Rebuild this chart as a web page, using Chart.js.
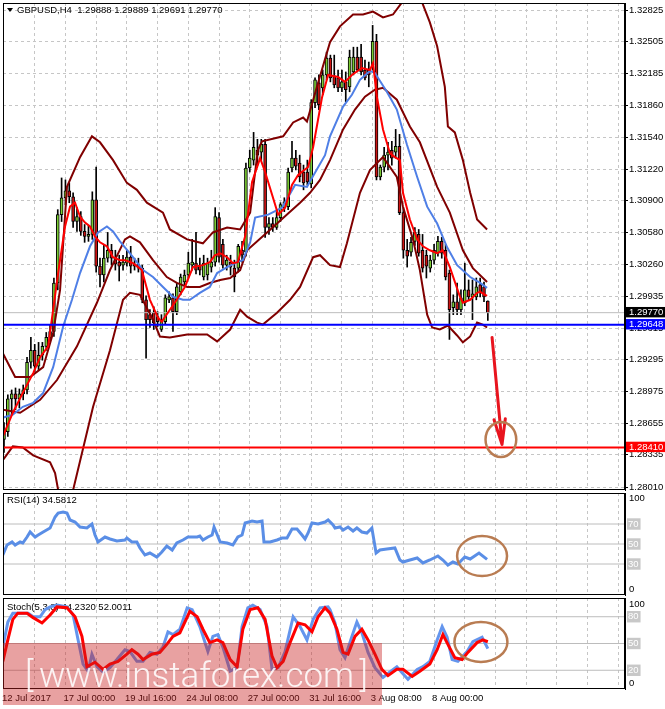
<!DOCTYPE html>
<html>
<head>
<meta charset="utf-8">
<script src="https://cdn.jsdelivr.net/npm/chart.js@4.4.1/dist/chart.umd.min.js"></script>
<style>
  body { margin: 0; background: #fff; width: 665px; height: 709px; overflow: hidden; position: relative; }
  canvas { position: absolute; left: 0; }
  #main { top: 0; }
  #rsi { top: 492px; }
  #stoch { top: 596px; }
  .wm { position: absolute; left: 3px; top: 643px; width: 379px; height: 62px; background: rgba(200, 30, 30, 0.42); pointer-events: none; }
  .wm div { position: absolute; left: 22px; right: 14px; top: 13px; display: flex; justify-content: space-between;
            color: rgba(255, 255, 255, 0.88); font: 300 35px Roboto, 'Liberation Sans', sans-serif; line-height: 40px; }
</style>
</head>
<body>
<canvas id="main" width="665" height="492"></canvas>
<canvas id="rsi" width="665" height="104"></canvas>
<canvas id="stoch" width="665" height="113"></canvas>
<div class="wm"><div><span>[</span><span>www.instaforex.com</span><span>]</span></div></div>
<script>
// GBPUSD H4, one value per bar (bar 0 = 12 Jul 08:00)
const opens = [
  1.2849,1.2857,1.2890,1.2895,1.2890,1.2895,1.2899,1.2927,1.2939,1.2923,
  1.2934,1.2943,1.2952,1.2958,1.3007,1.3076,1.3093,1.3100,1.3094,1.3069,
  1.3074,1.3059,1.3054,1.3056,1.3091,1.3024,1.3015,1.3032,1.3040,1.3032,
  1.3028,1.3025,1.3027,1.3033,1.3026,1.3026,1.3022,1.2990,1.2975,1.2977,
  1.2973,1.2960,1.2968,1.2990,1.2992,1.2978,1.2998,1.3008,1.3015,1.3025,
  1.3027,1.3025,1.3013,1.3015,1.3023,1.3028,1.3073,1.3046,1.3025,1.3028,
  1.3022,1.3022,1.3040,1.3038,1.3123,1.3131,1.3141,1.3139,1.3147,1.3063,
  1.3067,1.3063,1.3073,1.3083,1.3084,1.3123,1.3133,1.3128,1.3119,1.3119,
  1.3107,1.3189,1.3209,1.3204,1.3217,1.3234,1.3216,1.3214,1.3204,1.3210,
  1.3205,1.3220,1.3235,1.3235,1.3222,1.3222,1.3227,1.3251,1.3114,1.3124,
  1.3136,1.3141,1.3139,1.3145,1.3078,1.3040,1.3038,1.3049,1.3056,1.3040,
  1.3035,1.3022,1.3030,1.3037,1.3049,1.3040,1.3017,1.2982,1.2988,1.2980,
  1.2987,1.3000,1.2993,1.2993,1.3005,1.3003,1.29888
];
const highs = [
  1.2866,1.2894,1.2899,1.2901,1.2900,1.2904,1.2932,1.2952,1.2945,1.2947,
  1.2947,1.2957,1.2965,1.3012,1.3081,1.3113,1.3111,1.3108,1.3098,1.3083,
  1.3079,1.3066,1.3065,1.3099,1.3124,1.3032,1.3046,1.3058,1.3046,1.3040,
  1.3035,1.3035,1.3040,1.3044,1.3032,1.3032,1.3025,1.2994,1.2980,1.2983,
  1.2978,1.2975,1.2995,1.2998,1.2996,1.3007,1.3016,1.3020,1.3038,1.3051,
  1.3058,1.3032,1.3035,1.3032,1.3040,1.3083,1.3078,1.3051,1.3035,1.3035,
  1.3030,1.3046,1.3049,1.3128,1.3141,1.3159,1.3152,1.3152,1.3152,1.3073,
  1.3073,1.3079,1.3088,1.3093,1.3123,1.3150,1.3141,1.3136,1.3126,1.3131,
  1.3192,1.3214,1.3217,1.3222,1.3240,1.3237,1.3237,1.3222,1.3222,1.3220,
  1.3242,1.3245,1.3245,1.3248,1.3232,1.3230,1.3267,1.3258,1.3126,1.3144,
  1.3149,1.3150,1.3162,1.3157,1.3083,1.3051,1.3053,1.3063,1.3061,1.3056,
  1.3040,1.3035,1.3046,1.3054,1.3053,1.3046,1.3020,1.2995,1.3007,1.3000,
  1.3027,1.3010,1.3010,1.3012,1.3012,1.3008,1.29889
];
const lows = [
  1.2836,1.2852,1.2874,1.2879,1.2881,1.2889,1.2895,1.2921,1.2917,1.2919,
  1.2929,1.2939,1.2948,1.2953,1.3000,1.3069,1.3086,1.3088,1.3063,1.3059,
  1.3055,1.3048,1.3049,1.3051,1.3018,1.3003,1.3008,1.3028,1.3025,1.3020,
  1.3009,1.3020,1.3024,1.3017,1.3020,1.3018,1.2987,1.2931,1.2962,1.2960,
  1.2963,1.2958,1.2965,1.2987,1.2958,1.2975,1.2995,1.3005,1.3012,1.3020,
  1.3016,1.3015,1.3010,1.3010,1.3018,1.3024,1.3028,1.3022,1.3020,1.3015,
  1.2998,1.3018,1.3028,1.3034,1.3119,1.3126,1.3126,1.3131,1.3053,1.3056,
  1.3059,1.3061,1.3069,1.3079,1.3081,1.3119,1.3121,1.3109,1.3101,1.3106,
  1.3103,1.3184,1.3182,1.3197,1.3212,1.3210,1.3204,1.3200,1.3200,1.3190,
  1.3200,1.3217,1.3220,1.3217,1.3212,1.3205,1.3222,1.3111,1.3111,1.3119,
  1.3121,1.3126,1.3133,1.3076,1.3032,1.3023,1.3034,1.3045,1.3034,1.3018,
  1.3012,1.3018,1.3026,1.3034,1.3032,1.3010,1.2950,1.2975,1.2975,1.2975,
  1.2984,1.2990,1.2970,1.2990,1.2993,1.2988,1.29691
];
const closes = [
  1.2857,1.2890,1.2895,1.2890,1.2895,1.2899,1.2927,1.2939,1.2923,1.2934,
  1.2943,1.2952,1.2958,1.3007,1.3076,1.3093,1.3100,1.3094,1.3069,1.3074,
  1.3059,1.3054,1.3056,1.3091,1.3024,1.3015,1.3032,1.3040,1.3032,1.3026,
  1.3024,1.3028,1.3033,1.3024,1.3024,1.3022,1.2990,1.2970,1.2970,1.2967,
  1.2968,1.2970,1.2992,1.2993,1.2978,1.3003,1.3013,1.3015,1.3027,1.3028,
  1.3020,1.3020,1.3027,1.3027,1.3028,1.3074,1.3033,1.3025,1.3030,1.3023,
  1.3013,1.3044,1.3035,1.3123,1.3133,1.3144,1.3136,1.3147,1.3063,1.3067,
  1.3063,1.3073,1.3086,1.3089,1.3119,1.3133,1.3125,1.3114,1.3108,1.3109,
  1.3189,1.3212,1.3187,1.3217,1.3234,1.3214,1.3207,1.3204,1.3210,1.3202,
  1.3235,1.3235,1.3222,1.3220,1.3214,1.3217,1.3251,1.3114,1.3124,1.3136,
  1.3139,1.3133,1.3145,1.3078,1.3040,1.3034,1.3048,1.3058,1.3037,1.3022,
  1.3024,1.3030,1.3040,1.3049,1.3037,1.3013,1.2980,1.2988,1.2980,1.2992,
  1.3000,1.2993,1.2996,1.3003,1.2998,1.2993,1.29770
];

// indicator lines as [bar, value]
const upperBand = [[-0.3,1.2936],[2.9,1.2912],[6.8,1.2912],[10.2,1.2922],[12.8,1.2957],[14.6,1.3000],[16.4,1.3104],[19.8,1.3134],[22.9,1.3155],[25,1.3149],[28.4,1.3131],[32,1.3108],[34.6,1.3101],[37.2,1.3088],[41.4,1.3078],[43.2,1.3061],[47.7,1.3051],[51.8,1.3047],[54.4,1.3058],[58.1,1.3063],[61.5,1.3061],[64.1,1.3078],[66.1,1.3141],[67.2,1.3150],[72.7,1.3155],[75.3,1.3169],[77.9,1.3174],[78.9,1.3170],[81.5,1.3205],[84.9,1.3250],[87.5,1.3266],[90.9,1.3278],[93.5,1.3278],[96.1,1.3281],[98.7,1.3275],[101.3,1.3278],[103.6,1.3290],[106.3,1.3303],[108.9,1.3290],[110.9,1.3270],[112.8,1.3246],[114.8,1.3205],[115.6,1.3165],[117.4,1.3159],[119.5,1.3131],[121.4,1.3098],[123.2,1.3071],[125.8,1.3061]];
const midBand = [[-0.3,1.2879],[4.2,1.2876],[9.4,1.2889],[13.8,1.2909],[19,1.2943],[24.2,1.2987],[27.6,1.3020],[31.5,1.3051],[32.8,1.3054],[35.4,1.3048],[38.8,1.3030],[42.4,1.3013],[45,1.3007],[47.7,1.3003],[51,1.3003],[53.6,1.3007],[56.3,1.3010],[58.9,1.3012],[61.5,1.3020],[63.3,1.3040],[68.5,1.3058],[73.7,1.3076],[77.1,1.3088],[79.7,1.3098],[82.3,1.3111],[84.9,1.3131],[88.3,1.3162],[91.4,1.3182],[94,1.3195],[96.6,1.3202],[98.7,1.3204],[102.3,1.3192],[105.7,1.3165],[108.3,1.3149],[112.8,1.3104],[116.1,1.3078],[119.5,1.3040],[122.1,1.3022],[125.8,1.3008]];
const lowBand = [[-0.3,1.2828],[2.3,1.2842],[4.9,1.2841],[7.6,1.2833],[12,1.2826],[13.3,1.2815],[14.1,1.2798],[15.9,1.2768],[18,1.2798],[23.2,1.2882],[27.6,1.2939],[31,1.2990],[32.8,1.2997],[35.4,1.2995],[38.8,1.2970],[40.6,1.2953],[43.2,1.2952],[47.7,1.2955],[52.9,1.2955],[55.5,1.2948],[58.9,1.2960],[61.5,1.2980],[63.3,1.2973],[65.9,1.2967],[67.4,1.2965],[71.1,1.2977],[74.5,1.2990],[77.1,1.3003],[80.5,1.3033],[82.3,1.3035],[84.9,1.3025],[87.5,1.3023],[89.3,1.3047],[92.7,1.3098],[95.3,1.3121],[98.7,1.3134],[102.3,1.3114],[103.9,1.3084],[106.5,1.3051],[108.3,1.3020],[110.2,1.2975],[111.5,1.2962],[113.5,1.2960],[115.6,1.2964],[118,1.2954],[119.5,1.2947],[121.4,1.2953],[123.2,1.2967],[124.7,1.2965],[125.8,1.2962]];
const fastMA = [[-0.3,1.2852],[2.3,1.2876],[4.9,1.2896],[7.6,1.2916],[9.4,1.2932],[11.5,1.2943],[12.8,1.2980],[14.1,1.3017],[15.9,1.3064],[17.2,1.3084],[18.5,1.3088],[19.8,1.3074],[21.1,1.3068],[22.4,1.3064],[23.7,1.3054],[25,1.3048],[26.8,1.3044],[28.4,1.3033],[30.2,1.3030],[31.5,1.3030],[33.6,1.3027],[35.9,1.3020],[38,1.2990],[40.1,1.2972],[41.1,1.2968],[43.2,1.2980],[45,1.2990],[47.1,1.3003],[49.2,1.3023],[51.8,1.3025],[53.6,1.3028],[54.9,1.3035],[56.3,1.3037],[58.1,1.3033],[59.6,1.3027],[60.9,1.3028],[62.8,1.3054],[64.6,1.3109],[66.7,1.3133],[68,1.3119],[71.4,1.3076],[73.2,1.3083],[75,1.3106],[76.6,1.3116],[79.2,1.3124],[80.5,1.3144],[82.8,1.3194],[84.4,1.3217],[87,1.3215],[88.8,1.3210],[90.6,1.3217],[93.2,1.3224],[95.3,1.3222],[96.1,1.3229],[97.1,1.3195],[98.7,1.3162],[100.5,1.3138],[101.8,1.3134],[103.1,1.3131],[103.9,1.3098],[105.7,1.3071],[107.6,1.3051],[109.1,1.3044],[110.9,1.3040],[112.8,1.3037],[114.3,1.3040],[116.1,1.3023],[118.75,1.2993],[119.5,1.2987],[121.4,1.2990],[123.2,1.2997],[124,1.2998],[125.8,1.2994]];
const slowMA = [[-0.3,1.2871],[2.3,1.2874],[4.9,1.2882],[7.6,1.2886],[10.2,1.2896],[12.8,1.2922],[15.4,1.2963],[17.7,1.2990],[19.8,1.3017],[22.4,1.3044],[24.5,1.3058],[26.8,1.3064],[28.4,1.3059],[30.2,1.3049],[33.6,1.3033],[36.2,1.3020],[38.8,1.3013],[41.4,1.3003],[44,1.2993],[46.6,1.2990],[48.4,1.2990],[51,1.2997],[53.6,1.3003],[55.5,1.3017],[58.1,1.3023],[60.7,1.3028],[62.2,1.3030],[64.1,1.3048],[65.4,1.3073],[68.8,1.3076],[72.4,1.3083],[75.8,1.3106],[78.9,1.3104],[80.2,1.3113],[83.6,1.3136],[84.9,1.3155],[88.3,1.3185],[90.6,1.3197],[92.7,1.3212],[95.3,1.3221],[96.6,1.3219],[99.7,1.3200],[102.3,1.3182],[104.9,1.3147],[107.6,1.3114],[110.2,1.3084],[112.8,1.3067],[115.4,1.3043],[118,1.3025],[121.4,1.3013],[124,1.3007],[125.8,1.3002]];
const rsiLine = [[-0.3,39],[0.8,49],[2.1,52],[2.9,49],[4.2,52],[4.9,51],[6,57],[6.8,62],[8.1,57],[8.9,59],[10.2,62],[12,66],[13.3,77],[14.1,81],[15.4,82],[16.4,81],[17.2,74],[18.5,72],[19.8,67],[21.6,66],[22.9,70],[23.7,59],[24.5,52],[26.3,57],[27.6,55],[29.4,53],[31.5,54],[32,56],[33.3,52],[34.6,52],[35.4,46],[36.7,39],[38,41],[39.8,37],[41.1,42],[42.4,48],[43.8,44],[45,51],[46.6,54],[47.9,57],[50.3,57],[51,58],[51.8,54],[53.1,57],[54.2,59],[54.7,67],[56.3,52],[58.1,51],[59.6,49],[60.9,57],[62,59],[62.8,71],[64.6,73],[65.9,72],[67.2,73],[67.7,52],[69.3,52],[71.1,54],[72.4,56],[73.7,56],[75,65],[76.3,65],[77.6,59],[78.4,55],[79.2,61],[80.2,71],[81.8,70],[83.6,72],[84.4,74],[85.7,69],[86.2,66],[87.5,67],[88.3,64],[89.6,67],[90.9,63],[91.9,66],[93.2,62],[94.5,61],[95.8,66],[96.9,41],[97.9,44],[99.7,45],[101.8,46],[103.1,34],[103.9,32],[105.7,34],[107.6,36],[109.1,31],[110.9,34],[113,38],[114.3,34],[115.6,29],[116.9,32],[118.2,30],[120,37],[121.4,35],[123.7,41],[125.8,34.58]];
const stochK = [[-0.3,46],[1,74],[2.3,84],[4.2,84],[6.3,84],[7.6,80],[9.4,80],[10.7,88],[12,91],[13.8,93],[16.4,91],[18,82],[19.3,54],[20.6,27],[21.9,19],[22.9,38],[24.2,24],[25.8,18],[27.6,23],[29.4,32],[31.5,43],[32.8,41],[34.6,30],[36.2,30],[38,40],[39.8,38],[41.4,46],[42.7,63],[44,60],[45.8,66],[47.7,90],[49,88],[51,69],[53.1,41],[54.4,58],[55.7,60],[57,46],[58.9,19],[60.7,23],[62,69],[63.5,90],[64.8,93],[66.7,88],[68.5,69],[69.8,21],[71.4,23],[73.2,41],[75.3,80],[77.1,69],[78.9,54],[80.5,77],[82.3,90],[84.4,91],[84.9,88],[86.2,73],[87.5,43],[88.8,34],[90.6,58],[91.9,74],[93.2,62],[94.8,40],[96.6,23],[98.7,12],[100.5,18],[102.3,24],[103.9,16],[105.2,10],[107.6,21],[109.1,24],[110.9,30],[112.8,54],[114.1,69],[115.4,57],[116.7,32],[118.2,30],[120.6,41],[122.1,52],[124.5,57],[126,44.232]];
const stochD = [[-0.3,30],[1,54],[2.3,77],[3.6,84],[6,84],[7.6,79],[9.9,73],[12,82],[13.8,91],[16.4,90],[18.5,80],[20.3,58],[21.6,24],[23.7,29],[25.8,21],[27.6,27],[29.7,30],[32,38],[33.3,43],[34.9,38],[36.2,32],[38.5,38],[40.6,40],[42.4,49],[44,58],[45.8,62],[48.4,86],[50.3,80],[51.8,66],[53.6,51],[55.5,54],[57,51],[58.9,32],[60.7,24],[62.2,66],[64.1,88],[66.1,90],[68,77],[69.8,36],[71.1,23],[72.7,30],[74.5,51],[76.6,73],[78.4,71],[80.2,63],[81.8,80],[83.6,90],[84.9,84],[86.7,66],[88.3,40],[89.6,38],[91.4,58],[93.2,66],[94.8,54],[96.6,38],[98.4,21],[100,14],[102.3,21],[103.9,21],[106.3,13],[108.3,19],[110.9,27],[112.8,43],[114.3,60],[115.6,49],[117.4,34],[119.3,32],[120.8,40],[123.2,51],[124.7,54],[126,52.0011]];

const priceTicks = [1.32825,1.32505,1.32185,1.31860,1.31540,1.31220,1.30900,1.30580,1.30260,1.29935,1.29615,1.29295,1.28975,1.28655,1.28335,1.28010];
const rsiTicks = [30, 50, 70];
const stochTicks = [20, 50, 80];
const dateLabels = ['12 Jul 2017','17 Jul 00:00','19 Jul 16:00','24 Jul 08:00','27 Jul 00:00','31 Jul 16:00','3 Aug 08:00','8 Aug 00:00'];
const supportLevel = 1.29648;
const targetLevel = 1.28410;
const lastPrice = closes[closes.length - 1];

const font = { family: "'Liberation Sans', Arial, sans-serif", size: 9.5 };
const fontCss = "9.5px 'Liberation Sans', Arial, sans-serif";
const gridGray = '#c6c6c6';
const marks = [
  { value: lastPrice, color: '#000000' },
  { value: supportLevel, color: '#0000ff' },
  { value: targetLevel, color: '#ff0000' }
];
const markColor = v => { const m = marks.find(m => Math.abs(m.value - v) < 1e-7); return m ? m.color : null; };

const line = (pts, color, width, order) => ({
  type: 'line', data: pts.map(([x, y]) => ({ x, y })), borderColor: color, borderWidth: width,
  pointRadius: 0, tension: 0, order
});
const hline = (v, color, width, order) => line([[-1, v], [163, v]], color, width, order);

// no label padding: the plot must fill the panel exactly
const noPad = s => { s.paddingTop = 0; s.paddingBottom = 0; s.paddingLeft = 0; s.paddingRight = 0; };

function barAxis(showLabels) {
  return {
    type: 'linear', min: -0.26, max: 161.72, offset: false,
    afterBuildTicks: s => { s.ticks = []; for (let v = 0; v <= 160; v += 8) s.ticks.push({ value: v }); },
    ticks: {
      display: showLabels, autoSkip: false, maxRotation: 0, align: 'start', labelOffset: -2, padding: 4,
      color: '#000', font,
      callback: v => (v % 16 === 0 && dateLabels[v / 16]) ? dateLabels[v / 16] : ''
    },
    grid: { offset: false, color: c => (c.tick && c.tick.value === 0) ? 'rgba(0,0,0,0)' : gridGray, drawTicks: false },
    border: { display: false, dash: [3, 3] },
    afterFit: s => { noPad(s); s.height = showLabels ? 20 : 0; }
  };
}

function sideAxis(min, max, ticks) {
  return {
    position: 'right', min, max,
    afterBuildTicks: s => { s.ticks = ticks.map(v => ({ value: v })); },
    ticks: {
      autoSkip: false, padding: 3, font, color: '#fff',
      showLabelBackdrop: true, backdropColor: '#c8c8c8', backdropPadding: { top: 0, bottom: 0, left: 1, right: 2 },
      callback: v => String(v)
    },
    grid: { display: false, drawTicks: false },
    border: { color: '#000' },
    afterFit: s => { noPad(s); s.width = 40; }
  };
}

// frame, panel caption and inside edge labels
const panelPlugin = {
  id: 'panel',
  beforeDatasetsDraw(chart, args, o) {
    const { ctx, chartArea: a } = chart;
    ctx.save();
    ctx.font = fontCss; ctx.fillStyle = '#000'; ctx.textBaseline = 'middle';
    if (o.arrow) {
      ctx.beginPath(); ctx.moveTo(a.left + 4, a.top + 5); ctx.lineTo(a.left + 10, a.top + 5); ctx.lineTo(a.left + 7, a.top + 9);
      ctx.closePath(); ctx.fill();
    }
    if (o.caption) ctx.fillText(o.caption, a.left + o.captionX, a.top + o.captionY);
    ctx.restore();
  },
  afterDraw(chart, args, o) {
    const { ctx, chartArea: a } = chart;
    ctx.save();
    ctx.strokeStyle = '#000'; ctx.lineWidth = 1;
    ctx.strokeRect(a.left + 0.5, a.top + 0.5, a.right - a.left - 1, a.bottom - a.top - 1);
    if (o.edges) {
      ctx.font = fontCss; ctx.fillStyle = '#000'; ctx.textBaseline = 'middle';
      ctx.fillText(o.edges[0], a.right + 4, a.top + o.edgeTop);
      ctx.fillText(o.edges[1], a.right + 4, a.bottom - o.edgeBottom);
    }
    ctx.restore();
  }
};

// hand-drawn style notes placed in data units
const notesPlugin = {
  id: 'notes',
  afterDatasetsDraw(chart, args, o) {
    const { ctx, scales: { x, y } } = chart;
    ctx.save();
    if (o.arrow) {
      const x1 = x.getPixelForValue(o.arrow.from[0]), y1 = y.getPixelForValue(o.arrow.from[1]);
      const x2 = x.getPixelForValue(o.arrow.to[0]), y2 = y.getPixelForValue(o.arrow.to[1]);
      const ang = Math.atan2(y2 - y1, x2 - x1);
      ctx.strokeStyle = '#e8141e'; ctx.lineWidth = 3; ctx.lineCap = 'round'; ctx.lineJoin = 'round';
      ctx.beginPath(); ctx.moveTo(x1, y1); ctx.lineTo(x2, y2);
      for (const s of [-1, 1]) {
        ctx.moveTo(x2, y2);
        ctx.lineTo(x2 - 26 * Math.cos(ang + s * 0.22), y2 - 26 * Math.sin(ang + s * 0.22));
      }
      ctx.stroke();
    }
    if (o.ring) {
      const cx = x.getPixelForValue(o.ring.x), cy = y.getPixelForValue(o.ring.y);
      const rx = Math.abs(x.getPixelForValue(o.ring.x + o.ring.rx) - cx);
      const ry = Math.abs(y.getPixelForValue(o.ring.y + o.ring.ry) - cy);
      ctx.strokeStyle = '#b97c52'; ctx.lineWidth = 2.5;
      ctx.beginPath(); ctx.ellipse(cx, cy, rx, ry, 0, 0, Math.PI * 2); ctx.stroke();
    }
    ctx.restore();
  }
};

const base = {
  responsive: false, animation: false, events: [],
  plugins: { legend: { display: false }, tooltip: { enabled: false } }
};

const bars = opens.map((o, i) => i);
new Chart(document.getElementById('main'), {
  type: 'bar',
  data: {
    datasets: [
      hline(supportLevel, '#0000ff', 2, 1),
      hline(targetLevel, '#ff0000', 2, 1),
      line(fastMA, '#ff0000', 2, 2),
      line(slowMA, '#4f7fe6', 2, 3),
      line(upperBand, '#800000', 2, 4),
      line(midBand, '#800000', 2, 4),
      line(lowBand, '#800000', 2, 4),
      hline(lastPrice, '#bdbdbd', 1, 6),
      {
        type: 'bar', data: bars.map(i => ({ x: i, y: [opens[i], closes[i]] })), grouped: false, order: 7,
        backgroundColor: c => closes[c.dataIndex] >= opens[c.dataIndex] ? '#7acb34' : '#cc1414',
        borderColor: '#000', borderWidth: 1, borderSkipped: false, barThickness: 3, minBarLength: 1
      },
      {
        type: 'bar', data: bars.map(i => ({ x: i, y: [lows[i], highs[i]] })), grouped: false, order: 8,
        backgroundColor: '#000', barThickness: 1
      }
    ]
  },
  options: {
    ...base,
    layout: { padding: { left: 3, top: 3, bottom: 2, right: 0 } },
    plugins: {
      ...base.plugins,
      panel: {
        arrow: true, captionX: 14, captionY: 7,
        caption: 'GBPUSD,H4  ' + [opens, highs, lows, closes].map(a => a[a.length - 1].toFixed(5)).join(' ')
      },
      notes: { arrow: { from: [127.1, 1.2952], to: [129.7, 1.2844] }, ring: { x: 129.4, y: 1.2849, rx: 4.0, ry: 0.00177 } }
    },
    scales: {
      x: barAxis(false),
      y: {
        position: 'right', min: 1.2798, max: 1.32896,
        afterBuildTicks: s => { s.ticks = priceTicks.concat(marks.map(m => m.value)).map(v => ({ value: v })); },
        ticks: {
          autoSkip: false, padding: 1, font,
          color: c => markColor(c.tick.value) ? '#fff' : '#000',
          showLabelBackdrop: c => !!markColor(c.tick.value),
          backdropColor: c => markColor(c.tick.value) || 'rgba(0,0,0,0)',
          backdropPadding: { top: 0, bottom: -1, left: 3, right: 4 },
          callback: v => v.toFixed(5)
        },
        grid: {
          color: c => (c.tick && markColor(c.tick.value)) ? 'rgba(0,0,0,0)' : gridGray,
          tickLength: 3,
          tickColor: c => (c.tick && markColor(c.tick.value)) ? 'rgba(0,0,0,0)' : '#000'
        },
        border: { color: '#000', dash: [3, 3] },
        afterFit: s => { noPad(s); s.width = 40; }
      }
    }
  },
  plugins: [panelPlugin, notesPlugin]
});

new Chart(document.getElementById('rsi'), {
  type: 'line',
  data: {
    datasets: [
      line(rsiLine, '#5a8ee6', 3, 1),
      ...rsiTicks.map(v => hline(v, '#bcbcbc', 1, 5))
    ]
  },
  options: {
    ...base,
    layout: { padding: { left: 3, top: 1, bottom: 1, right: 0 } },
    plugins: {
      ...base.plugins,
      panel: { caption: 'RSI(14) 34.5812', captionX: 4, captionY: 7, edges: ['100', '0'], edgeTop: 5, edgeBottom: 6 },
      notes: { ring: { x: 124.5, y: 38, rx: 6.5, ry: 20 } }
    },
    scales: { x: barAxis(false), y: sideAxis(-1, 101, rsiTicks) }
  },
  plugins: [panelPlugin, notesPlugin]
});

new Chart(document.getElementById('stoch'), {
  type: 'line',
  data: {
    datasets: [
      line(stochD, '#ff0000', 3, 1),
      line(stochK, '#6495ed', 3, 2),
      ...stochTicks.map(v => hline(v, '#bcbcbc', 1, 5))
    ]
  },
  options: {
    ...base,
    layout: { padding: { left: 3, top: 2, bottom: 0, right: 0 } },
    plugins: {
      ...base.plugins,
      panel: { caption: 'Stoch(5,3,3) 44.2320 52.0011', captionX: 4, captionY: 9, edges: ['100', '0'], edgeTop: 6, edgeBottom: 6 },
      notes: { ring: { x: 124.2, y: 51.7, rx: 6.9, ry: 22.4 } }
    },
    scales: { x: barAxis(true), y: sideAxis(-1, 101, stochTicks) }
  },
  plugins: [panelPlugin, notesPlugin]
});
</script>
</body>
</html>
